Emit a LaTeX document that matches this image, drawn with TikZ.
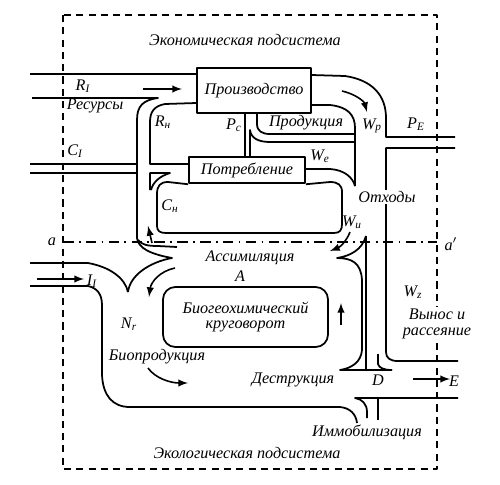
\documentclass[tikz,border=0pt]{standalone}
\usepackage{fontspec}
\setmainfont{Liberation Serif}
\usepackage{tikz}
\usetikzlibrary{arrows}
\newcommand{\flw}[2]{\textit{#1}\textsubscript{\textit{#2}}}
\newcommand{\lblfont}{\fontsize{9.2}{10.5}\selectfont\itshape}
\tikzset{
  wall/.style={line width=1pt},
  frame/.style={line width=0.8pt,dash pattern=on 4pt off 3pt},
  cut/.style={line width=0.8pt,dash pattern=on 6pt off 3pt on 1pt off 3pt},
  flowarr/.style={-latex,line width=0.9pt},
  box/.style={shape=rectangle,draw=black,line width=1pt,font=\lblfont},
  lbl/.style={font=\lblfont,inner sep=1pt}
}

\begin{document}
\begin{tikzpicture}[x=0.02cm,y=-0.02cm,line join=round]
\useasboundingbox (0,0) rectangle (500,484);
\draw[frame] (63,15) rectangle (437,469);
\draw[cut] (63,242) -- (437,242);
\node[box,minimum width=2.28cm,minimum height=0.9cm] (prod) at (254,90.5) {Производство};
\node[box,minimum width=2.32cm,minimum height=0.52cm] (cons) at (247,170) {Потребление};
\node[box,rounded corners=7pt,minimum width=3.3cm,minimum height=1.2cm,align=center] (bgc) at (245.5,317) {Биогеохимический\\[-2pt]круговорот};
\draw[wall] (30,74) -- (prod.west |- 0,74);
\draw[wall] (32,98) -- (158,98) .. controls (143,100) and (137,106) .. (137,120) -- (137,238) .. controls (138,248) and (150,254) .. (172,258) .. controls (150,262) and (130,275) .. (128,292);
\draw[wall] (30,263) -- (88,263) .. controls (110,267) and (125,278) .. (128,292);
\draw[wall] (prod.west |- 0,103) -- (165,104) .. controls (154,106) and (150,112) .. (150,122) -- (150,164) -- (cons.west |- 0,164);
\draw[wall] (30,164) -- (137,164);
\draw[wall] (30,173) -- (137,173);
\draw[wall] (150,190) -- (150,173) -- (170,173) .. controls (160,176) and (153,182) .. (151,190);
\draw[wall] (cons.south west) -- (168,182) .. controls (160,182) and (157,186) .. (157,194) -- (157,226) .. controls (157,231) and (160,233) .. (166,233) -- (334,233) .. controls (340,233) and (342,230) .. (342,224) -- (342,192) .. controls (342,185) and (338,182) .. (330,182) -- (cons.south east);
\draw[wall] (cons.east |- 0,169) -- (330,169) .. controls (345,170) and (353,178) .. (355,186);
\draw[wall] (prod.east |- 0,75) -- (345,76) .. controls (372,80) and (386,95) .. (386,118) -- (386,137) -- (455,137);
\draw[wall] (prod.east |- 0,105) -- (330,105) .. controls (348,107) and (355,115) .. (355,128) -- (355,186);
\draw[wall] (prod.south -| 257,0) -- (257,124) .. controls (257,131) and (262,134) .. (270,134) -- (355,134);
\draw[wall] (prod.south -| 245,0) -- (cons.north -| 245,0);
\draw[wall] (cons.north -| 250,0) -- (250,130) .. controls (251,138) and (258,142) .. (270,142) -- (355,142);
\draw[wall] (455,148) -- (386,148) -- (386,352) .. controls (386,358) and (390,361) .. (398,361) -- (458,361);
\draw[wall] (366,236) .. controls (362,250) and (350,256) .. (337,258) .. controls (352,258) and (361,263) .. (362,280) -- (362,350) .. controls (361,362) and (352,368) .. (340,370) -- (392,370);
\draw[wall] (366,236) -- (366,370);
\draw[wall] (378,354) -- (378,364) .. controls (379,368) and (384,370) .. (392,370);
\draw[wall] (458,398) -- (355,398) .. controls (362,399) and (367,404) .. (367,412) -- (367,418);
\draw[wall] (378,398) -- (378,420);
\draw[wall] (30,286) -- (88,286) .. controls (97,288) and (102,294) .. (102,305) -- (102,375) .. controls (103,395) and (112,407) .. (130,407) -- (340,407) .. controls (350,408) and (356,414) .. (357,423);
\draw[wall] (138,240) .. controls (142,245) and (148,246) .. (158,246) -- (177,247);
\draw[flowarr] (143,89) -- (182,89);
\draw[flowarr] (342,91) .. controls (355,94) and (364,101) .. (367,112);
\draw[flowarr] (152,243) -- (148,226);
\draw[flowarr] (175,268) .. controls (160,271) and (151,282) .. (149,297);
\draw[flowarr] (350,232) .. controls (346,242) and (340,247) .. (330,251);
\draw[flowarr] (341,325) -- (341,303);
\draw[flowarr] (148,368) .. controls (155,378) and (170,383) .. (188,383);
\draw[flowarr] (413,379) -- (450,379);
\draw[flowarr] (37,279) -- (84,279);
\node[lbl] (econ) at (245,40) {Экономическая подсистема};
\node[lbl] (ecol) at (247,453) {Экологическая подсистема};
\node[lbl] (ri) at (83,86) {\flw{R}{I}};
\node[lbl] (res) at (95,106) {Ресурсы};
\node[lbl] (rn) at (163,122) {\flw{R}{н}};
\node[lbl] (pc) at (234,125) {\flw{P}{c}};
\node[lbl] (prodn) at (306,123) {Продукция};
\node[lbl] (wp) at (372,126) {\flw{W}{p}};
\node[lbl] (pe) at (416,124) {\flw{P}{E}};
\node[lbl] (ci) at (75,151) {\flw{C}{I}};
\node[lbl] (we) at (320,156) {\flw{W}{e}};
\node[lbl] (cn) at (170,206) {\flw{C}{н}};
\node[lbl,fill=white] (waste) at (387,197) {Отходы};
\node[lbl] (wu) at (352,222) {\flw{W}{и}};
\node[lbl] (acut) at (52,242) {a};
\node[lbl] (acut2) at (451,244) {a$'$};
\node[lbl] (assim) at (250,258) {Ассимиляция};
\node[lbl] (aa) at (240,276) {A};
\node[lbl] (ii) at (92,281) {\flw{I}{I}};
\node[lbl] (nr) at (129,324) {\flw{N}{r}};
\node[lbl] (wz) at (413,292) {\flw{W}{z}};
\node[lbl,align=center,fill=white] (out) at (437,324) {Вынос и\\[-1pt]рассеяние};
\node[lbl] (bp) at (157,357) {Биопродукция};
\node[lbl] (destr) at (293,380) {Деструкция};
\node[lbl] (dd) at (378,380) {D};
\node[lbl] (ee) at (454,381) {E};
\node[lbl] (immob) at (367,432) {Иммобилизация};
\end{tikzpicture}
\end{document}
